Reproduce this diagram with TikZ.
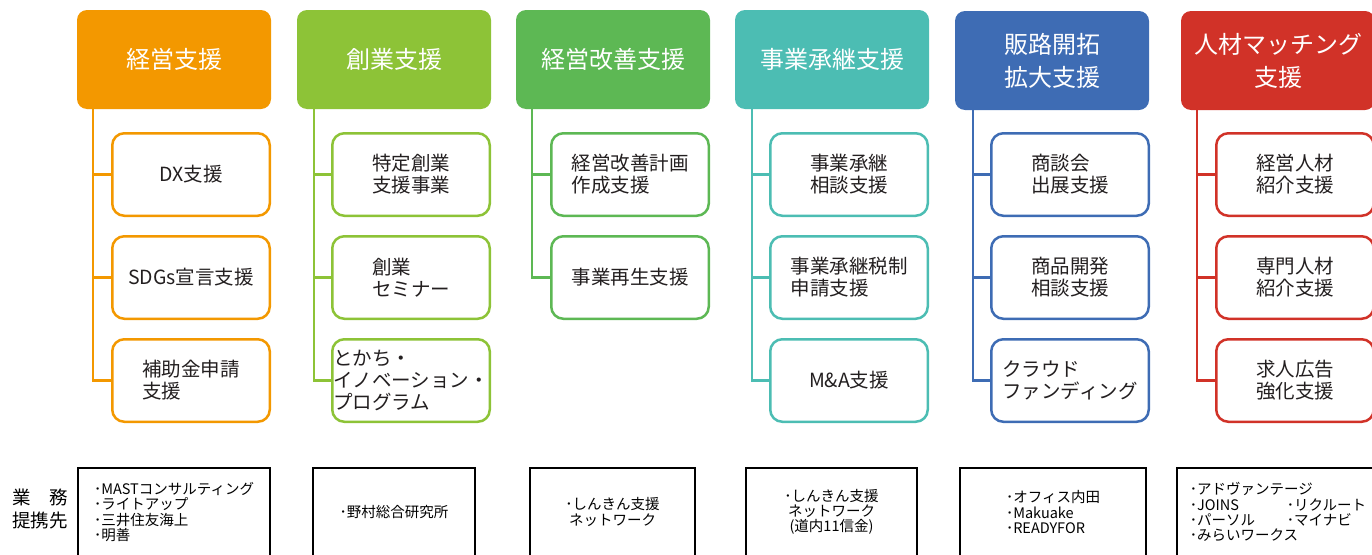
\documentclass[tikz,border=0pt]{standalone}
\usepackage{fontspec}
\setmainfont{Noto Sans CJK JP}
\definecolor{cA}{HTML}{F39800}
\definecolor{cB}{HTML}{8DC337}
\definecolor{cC}{HTML}{5DB854}
\definecolor{cD}{HTML}{4CBDB3}
\definecolor{cE}{HTML}{3E6CB4}
\definecolor{cF}{HTML}{D13228}
\definecolor{ink}{HTML}{231F20}
\begin{document}
\begin{tikzpicture}[x=1pt,y=-1pt,
  head/.style={fill=#1, rounded corners=10pt, minimum width=194pt, minimum height=99pt,
    text=white, font=\fontsize{24}{33}\selectfont, align=center, inner sep=0pt},
  child/.style={draw=#1, fill=white, line width=2.5pt, rounded corners=12pt,
    minimum width=157.5pt, minimum height=82.5pt, text=ink,
    font=\fontsize{19.5}{22}\selectfont, align=left, inner sep=0pt},
  link/.style={draw=#1, line width=2.5pt},
  partner/.style={draw=black, line width=2.2pt, minimum width=#1, minimum height=88pt,
    text=black, font=\fontsize{14.5}{15.3}\selectfont, inner sep=0pt},
  plabel/.style={text=black, font=\fontsize{18.5}{23}\selectfont, align=center, inner sep=0pt}
]
\useasboundingbox (0,0) rectangle (1372,554);
\clip (0,0) rectangle (1372,554);

% ---------- headers ----------
\node[head=cA] (h1) at (174,59.5) {経営支援};
\node[head=cB] (h2) at (394,59.5) {創業支援};
\node[head=cC] (h3) at (613,59.5) {経営改善支援};
\node[head=cD] (h4) at (832,59.5) {事業承継支援};
\node[head=cE] (h5) at (1052,60.5) {販路開拓\\拡大支援};
\node[head=cF] (h6) at (1278,60.5) {人材マッチング\\支援};

% ---------- children ----------
\node[child=cA] (c11) at (191,174.5) {DX支援};
\node[child=cA] (c12) at (191,277.5) {SDGs宣言支援};
\node[child=cA] (c13) at (191,380.5) {補助金申請\\支援};

\node[child=cB] (c21) at (411,174.5) {特定創業\\支援事業};
\node[child=cB] (c22) at (411,277.5) {創業\\セミナー};
\node[child=cB] (c23) at (411,380.5) {とかち・\\イノベーション・\\プログラム};

\node[child=cC] (c31) at (630,174.5) {経営改善計画\\作成支援};
\node[child=cC] (c32) at (630,277.5) {事業再生支援};

\node[child=cD] (c41) at (849,174.5) {事業承継\\相談支援};
\node[child=cD] (c42) at (849,277.5) {事業承継税制\\申請支援};
\node[child=cD] (c43) at (849,380.5) {M\&A支援};

\node[child=cE] (c51) at (1070,174.5) {商談会\\出展支援};
\node[child=cE] (c52) at (1070,277.5) {商品開発\\相談支援};
\node[child=cE] (c53) at (1070,380.5) {クラウド\\ファンディング};

\node[child=cF] (c61) at (1295,174.5) {経営人材\\紹介支援};
\node[child=cF] (c62) at (1295,277.5) {専門人材\\紹介支援};
\node[child=cF] (c63) at (1295,380.5) {求人広告\\強化支援};

% ---------- connectors ----------
\coordinate (v1) at (93,105);
\coordinate (v2) at (314,105);
\coordinate (v3) at (532,105);
\coordinate (v4) at (752,105);
\coordinate (v5) at (973,105);
\coordinate (v6) at (1197,105);

\draw[link=cA] (v1) |- (c13.west);
\draw[link=cA] (v1 |- c11.west) -- (c11.west);
\draw[link=cA] (v1 |- c12.west) -- (c12.west);

\draw[link=cB] (v2) |- (c23.west);
\draw[link=cB] (v2 |- c21.west) -- (c21.west);
\draw[link=cB] (v2 |- c22.west) -- (c22.west);

\draw[link=cC] (v3) |- (c32.west);
\draw[link=cC] (v3 |- c31.west) -- (c31.west);

\draw[link=cD] (v4) |- (c43.west);
\draw[link=cD] (v4 |- c41.west) -- (c41.west);
\draw[link=cD] (v4 |- c42.west) -- (c42.west);

\draw[link=cE] (v5) |- (c53.west);
\draw[link=cE] (v5 |- c51.west) -- (c51.west);
\draw[link=cE] (v5 |- c52.west) -- (c52.west);

\draw[link=cF] (v6) |- (c63.west);
\draw[link=cF] (v6 |- c61.west) -- (c61.west);
\draw[link=cF] (v6 |- c62.west) -- (c62.west);

% ---------- partners ----------
\node[plabel] (lab) at (40,509) {業　務\\提携先};

\node[partner=192pt, align=left] (p1) at (174,512)
  {･MASTコンサルティング\\･ライトアップ\\･三井住友海上\\･明善};
\node[partner=162pt, align=center] (p2) at (394,512) {･野村総合研究所};
\node[partner=165pt, align=center] (p3) at (612.5,512) {･しんきん支援\\ネットワーク};
\node[partner=171pt, align=center] (p4) at (831.5,512) {･しんきん支援\\ネットワーク\\(道内11信金)};
\node[partner=186pt, align=left] (p5) at (1053,512) {･オフィス内田\\･Makuake\\･READYFOR};
\node[partner=202pt, align=left] (p6) at (1278,512)
  {･アドヴァンテージ\\\makebox[97pt][l]{･JOINS}･リクルート\\\makebox[97pt][l]{･パーソル}･マイナビ\\･みらいワークス};
\end{tikzpicture}
\end{document}
